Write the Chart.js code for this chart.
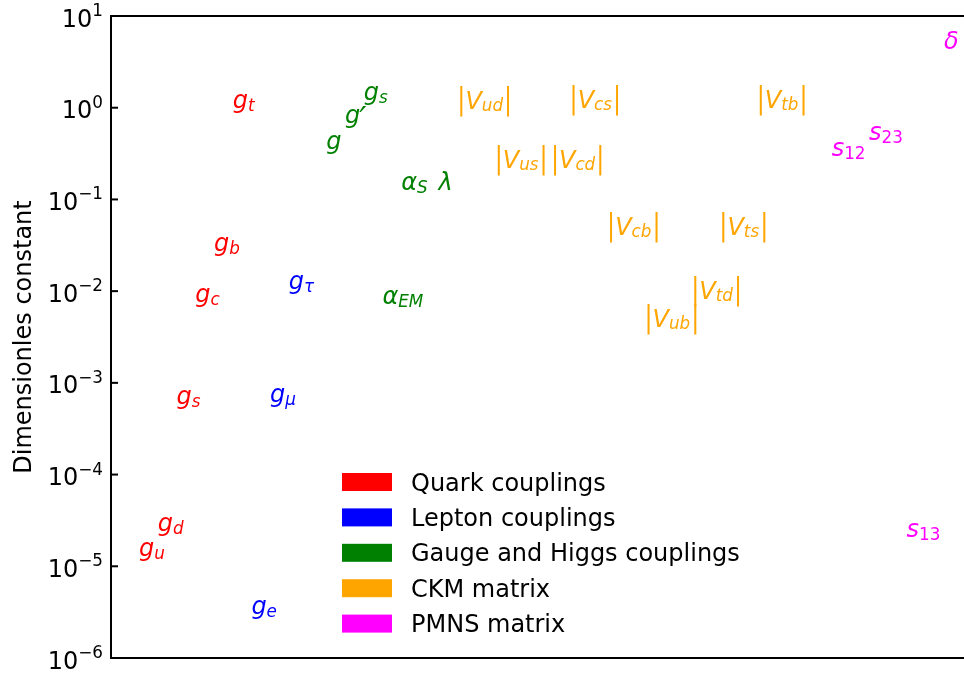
<!DOCTYPE html>
<html>
<head>
<meta charset="utf-8">
<script src="https://cdn.jsdelivr.net/npm/chart.js@4.4.1/dist/chart.umd.min.js"></script>
<style>
  body { margin: 0; background: #fff; }
  canvas { display: block; }
</style>
</head>
<body>
<canvas id="couplings" width="964" height="673"></canvas>
<script>
// Label, position along the (hidden) x axis and value of every constant, per group
let quarkLabels = ['g_u', 'g_d', 'g_s', 'g_c', 'g_b', 'g_t']
let quarkX = [0, 1, 2, 3, 4, 5]
let quarkValues = [1.3e-5, 2.44e-5, 5.9e-4, 7.7e-3, 0.0276, 1.0]

let leptonLabels = ['g_e', 'g_μ', 'g_τ']
let leptonX = [6, 7, 8]
let leptonValues = [3.04e-6, 6.2e-4, 0.0106]

let gaugeLabels = ['g', "g'", 'g_s', 'α_EM', 'α_S', 'λ']
let gaugeX = [10, 11, 12, 13, 14, 16]
let gaugeValues = [0.357, 0.686, 1.22, 0.0073, 0.128, 0.128]

let ckmLabels = ['|V_ud|', '|V_us|', '|V_cd|', '|V_cs|', '|V_cb|', '|V_ub|', '|V_td|', '|V_ts|', '|V_tb|']
let ckmX = [17, 19, 22, 23, 25, 27, 29.5, 31, 33]
let ckmValues = [0.98, 0.222, 0.222, 0.99, 0.041, 0.0041, 0.0083, 0.041, 0.99]

let pmnsLabels = ['s_12', 's_23', 's_13', 'δ']
let pmnsX = [37, 39, 41, 43]
let pmnsValues = [0.30, 0.45, 2.1e-5, 4.4]

let groupNames = ['Quark couplings', 'Lepton couplings', 'Gauge and Higgs couplings', 'CKM matrix', 'PMNS matrix']
let groupColors = ['#ff0000', '#0000ff', '#008000', '#ffa500', '#ff00ff']

// Y axis ticks (decades) and their exponents
let yTicks = [1e-6, 1e-5, 1e-4, 1e-3, 1e-2, 1e-1, 1e0, 1e1]
let yTickExponents = ['−6', '−5', '−4', '−3', '−2', '−1', '0', '1']
let yTitle = 'Dimensionles constant'

let FONT = '"DejaVu Sans"'

// Build a dataset from a group of arrays
function makeDataset(labels, xs, values, color) {
    return {
        data: xs.map((x, i) => ({ x: x, y: values[i] })),
        texts: labels,
        color: color,
        pointRadius: 0,
        showLine: false
    }
}

// Split a label like |V_ud| or g' into its pieces
function parseLabel(s) {
    let m = s.match(/^(\|?)([^_'|]+)(?:_([^'|]+))?('?)(\|?)$/)
    return { open: m[1], base: m[2], sub: m[3] || '', prime: m[4], close: m[5] }
}

// A tall thin bar: the 24px glyph stretched vertically about the baseline
function drawBar(ctx, x, y) {
    ctx.save()
    ctx.font = '24px ' + FONT
    ctx.translate(x, y)
    ctx.scale(1, 1.25)
    ctx.fillText('|', 0, 0)
    ctx.restore()
    ctx.font = '24px ' + FONT
    return ctx.measureText('|').width
}

// Draw a label the way matplotlib mathtext would: italic letters, smaller subscripts
function drawMath(ctx, x, y, s, color) {
    let p = parseLabel(s)
    ctx.fillStyle = color
    ctx.textAlign = 'left'
    ctx.textBaseline = 'alphabetic'
    let cx = x
    if (p.open) cx += drawBar(ctx, cx, y)
    ctx.font = 'italic 24px ' + FONT
    ctx.fillText(p.base, cx, y)
    cx += ctx.measureText(p.base).width
    if (p.prime) {
        ctx.font = 'italic 32px ' + FONT
        ctx.fillText('′', cx - 1, y + 6)
        cx += ctx.measureText('′').width
    }
    if (p.sub) {
        let drop = p.base === 'V' ? 2 : 3.5
        ctx.font = (/^\d+$/.test(p.sub) ? '' : 'italic ') + '16.8px ' + FONT
        ctx.fillText(p.sub, cx, y + drop)
        cx += ctx.measureText(p.sub).width
    }
    if (p.close) drawBar(ctx, cx + 1, y)
}

// Spines, ticks, axis title, legend and the labels themselves
let decorations = {
    id: 'decorations',
    afterDraw(chart) {
        let ctx = chart.ctx
        let area = chart.chartArea
        let yScale = chart.scales.y
        ctx.save()

        // Spines (the right one falls outside the picture)
        ctx.strokeStyle = '#000'
        ctx.lineWidth = 2
        ctx.beginPath()
        ctx.moveTo(area.right + 2, area.top)
        ctx.lineTo(area.left, area.top)
        ctx.lineTo(area.left, area.bottom)
        ctx.lineTo(area.right + 2, area.bottom)
        ctx.stroke()

        // Inward ticks and 10^n labels
        ctx.fillStyle = '#000'
        ctx.textBaseline = 'alphabetic'
        ctx.textAlign = 'right'
        yTicks.forEach(function(v, i) {
            let py = yScale.getPixelForValue(v)
            ctx.beginPath()
            ctx.moveTo(area.left, py)
            ctx.lineTo(area.left + 7, py)
            ctx.stroke()
            let exp = yTickExponents[i]
            let right = area.left - 8
            ctx.font = '16.8px ' + FONT
            let expWidth = ctx.measureText(exp).width
            ctx.fillText(exp, right, py)
            ctx.font = '24px ' + FONT
            ctx.fillText('10', right - expWidth, py + 10.5)
        })

        // Axis title
        ctx.save()
        ctx.translate(31, (area.top + area.bottom) / 2)
        ctx.rotate(-Math.PI / 2)
        ctx.textAlign = 'center'
        ctx.font = '24px ' + FONT
        ctx.fillText(yTitle, 0, 0)
        ctx.restore()

        // Legend
        ctx.textAlign = 'left'
        groupNames.forEach(function(name, i) {
            let top = 473 + i * 35.4
            ctx.fillStyle = groupColors[i]
            ctx.fillRect(342, top, 50, 18)
            ctx.fillStyle = '#000'
            ctx.font = '24px ' + FONT
            ctx.fillText(name, 411, top + 17.5)
        })

        // Labels placed at each point
        chart.data.datasets.forEach(function(ds, d) {
            let meta = chart.getDatasetMeta(d)
            meta.data.forEach(function(pt, j) {
                drawMath(ctx, pt.x, pt.y, ds.texts[j], ds.color)
            })
        })
        ctx.restore()
    }
}

let canvas = document.querySelector('#couplings')
let chart = new Chart(canvas.getContext('2d'), {
    type: 'scatter',
    data: {
        datasets: [
            makeDataset(quarkLabels, quarkX, quarkValues, groupColors[0]),
            makeDataset(leptonLabels, leptonX, leptonValues, groupColors[1]),
            makeDataset(gaugeLabels, gaugeX, gaugeValues, groupColors[2]),
            makeDataset(ckmLabels, ckmX, ckmValues, groupColors[3]),
            makeDataset(pmnsLabels, pmnsX, pmnsValues, groupColors[4])
        ]
    },
    options: {
        responsive: false,
        animation: false,
        devicePixelRatio: 1,
        layout: { padding: { left: 111, top: 16, right: 0, bottom: 15 } },
        plugins: { legend: { display: false }, tooltip: { enabled: false } },
        scales: {
            x: { type: 'linear', min: -1.5, max: 44.07, display: false },
            y: { type: 'logarithmic', min: 1e-6, max: 10, display: false }
        }
    },
    plugins: [decorations]
})
</script>
</body>
</html>
